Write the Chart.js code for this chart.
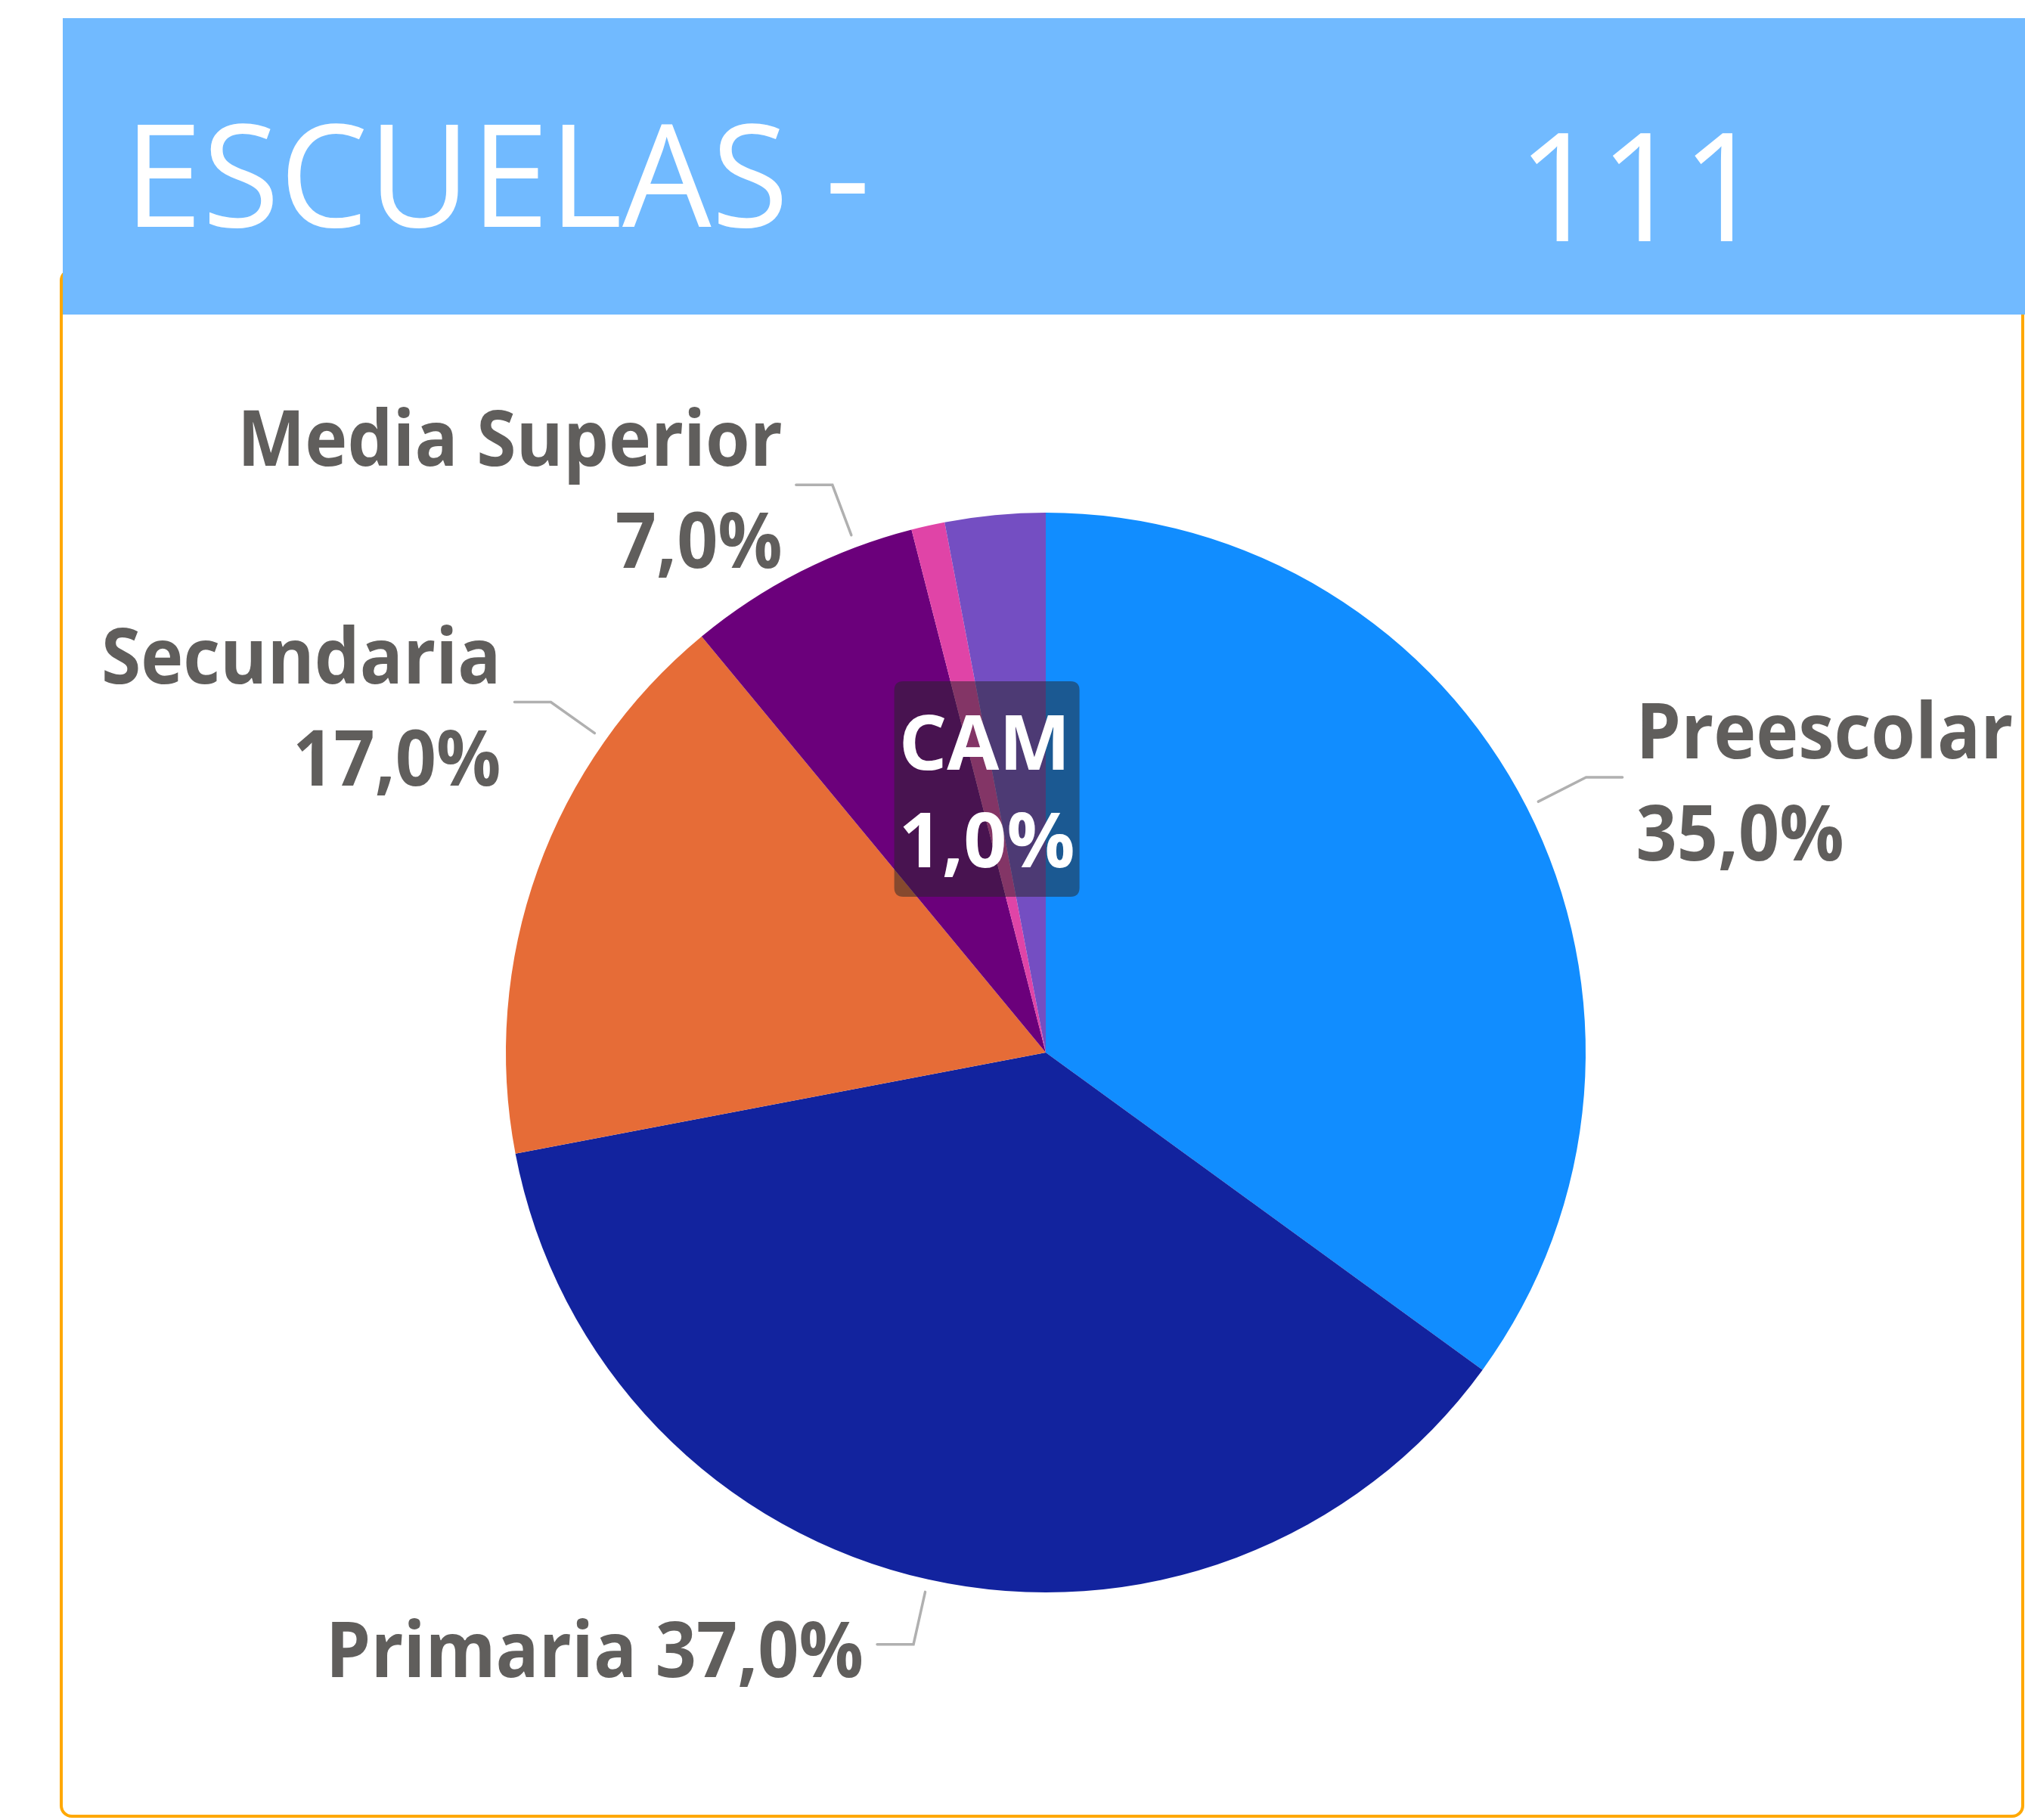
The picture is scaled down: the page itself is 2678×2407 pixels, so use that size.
<!DOCTYPE html>
<html lang="es">
<head>
<meta charset="utf-8">
<title>Escuelas</title>
<script src="https://cdn.jsdelivr.net/npm/chart.js@4.4.1/dist/chart.umd.min.js"></script>
<style>
  html, body { margin: 0; padding: 0; background: #fff; overflow: hidden; }
  canvas { display: block; }
</style>
</head>
<body>
<canvas id="pie" width="2678" height="2407"></canvas>
<script>
// --- data ---
const categories = ['Preescolar', 'Primaria', 'Secundaria', 'Media Superior', 'CAM', 'Otros'];
const shares = [35, 37, 17, 7, 1, 3];
const sliceColors = ['#118DFF', '#12239E', '#E66C37', '#6B007B', '#E044A7', '#744EC2'];
const headerTitle = 'ESCUELAS -';
const headerTotal = '111';

// label layout: 2 = name and % on two lines, 1 = one line, 0 = no label
const labelLines = [2, 1, 2, 2, 0, 0];
const leaderNudge = [0, 0, 15.5, 6.4, 0, 0];   // degrees, like Power BI moves them
const tooltipIndex = 4;                          // the hovered slice (CAM)

const LABEL_FONT = 'bold 102px "Open Sans"';
const LABEL_COLOR = '#605E5C';
const CONDENSE = 0.93;

const total = shares.reduce((a, b) => a + b, 0);
const fmtPct = v => (v / total * 100).toFixed(1).replace('.', ',') + '%';

function drawCondensed(ctx, text, x, y, side, k) {
  const w = ctx.measureText(text).width * k;
  const left = side > 0 ? x : x - w;
  ctx.save();
  ctx.translate(left, y);
  ctx.scale(k, 1);
  ctx.fillText(text, 0, 0);
  ctx.restore();
}

// card border + blue header
const panelPlugin = {
  id: 'panel',
  beforeDraw(chart) {
    const ctx = chart.ctx;
    ctx.save();
    ctx.fillStyle = '#fff';
    ctx.fillRect(0, 0, chart.width, chart.height);

    ctx.strokeStyle = '#FFA800';
    ctx.lineWidth = 4;
    ctx.beginPath();
    ctx.roundRect(81, 357, 2594, 2045, 14);
    ctx.stroke();

    ctx.fillStyle = '#71BAFF';
    ctx.fillRect(83, 24, 2595, 392);

    ctx.fillStyle = '#fff';
    ctx.textBaseline = 'alphabetic';
    ctx.textAlign = 'left';
    ctx.font = '400 188px "Open Sans"';
    drawCondensed(ctx, headerTitle, 164, 300, 1, 0.99);
    ctx.font = '400 200px "Open Sans"';
    drawCondensed(ctx, headerTotal, 2007, 319, 1, 0.95);
    ctx.restore();
  }
};

// outside labels with leader lines
const labelPlugin = {
  id: 'sliceLabels',
  afterDatasetsDraw(chart) {
    const ctx = chart.ctx;
    const arcs = chart.getDatasetMeta(0).data;
    ctx.save();
    ctx.textAlign = 'left';
    ctx.textBaseline = 'alphabetic';
    arcs.forEach((arc, i) => {
      if (!labelLines[i]) return;
      const { x, y, startAngle, endAngle, outerRadius } =
        arc.getProps(['x', 'y', 'startAngle', 'endAngle', 'outerRadius'], true);
      const a = (startAngle + endAngle) / 2 + leaderNudge[i] * Math.PI / 180;
      const dx = Math.cos(a), dy = Math.sin(a);
      const side = dx >= 0 ? 1 : -1;
      const x1 = x + dx * (outerRadius + 17), y1 = y + dy * (outerRadius + 17);
      const x2 = x + dx * (outerRadius + 88), y2 = y + dy * (outerRadius + 88);
      const x3 = x2 + side * 48;

      ctx.strokeStyle = '#B0B0B0';
      ctx.lineWidth = 3.5;
      ctx.lineCap = 'round';
      ctx.beginPath();
      ctx.moveTo(x1, y1);
      ctx.lineTo(x2, y2);
      ctx.lineTo(x3, y2);
      ctx.stroke();

      ctx.fillStyle = LABEL_COLOR;
      ctx.font = LABEL_FONT;
      const tx = x3 + side * 18;
      const pct = fmtPct(shares[i]);
      if (labelLines[i] === 2) {
        drawCondensed(ctx, categories[i], tx, y2 - 25, side, CONDENSE);
        drawCondensed(ctx, pct, tx, y2 + 110, side, CONDENSE);
      } else {
        drawCondensed(ctx, categories[i] + ' ' + pct, tx, y2 + 43, side, CONDENSE);
      }
    });
    ctx.restore();
  }
};

const tipFont = { family: 'Open Sans', size: 100, weight: 'bold', lineHeight: 1.2 };

const chart = new Chart(document.getElementById('pie'), {
  type: 'pie',
  data: {
    labels: categories,
    datasets: [{
      data: shares,
      backgroundColor: sliceColors,
      borderWidth: 0,
      hoverOffset: 0
    }]
  },
  options: {
    responsive: false,
    animation: false,
    events: [],
    layout: { padding: { left: 669, right: 581, top: 678, bottom: 301 } },
    plugins: {
      legend: { display: false },
      tooltip: {
        backgroundColor: 'rgba(38,38,38,0.5)',
        titleColor: '#fff',
        bodyColor: '#fff',
        titleFont: tipFont,
        bodyFont: tipFont,
        titleMarginBottom: 9,
        padding: { top: 28, bottom: 8, left: 6, right: 6 },
        cornerRadius: 12,
        caretSize: 0,
        caretPadding: 0,
        displayColors: false,
        xAlign: 'center',
        yAlign: 'center',
        callbacks: {
          title: items => items[0].label,
          label: item => fmtPct(item.raw)
        }
      }
    }
  },
  plugins: [panelPlugin, labelPlugin]
});

chart.tooltip.setActiveElements([{ datasetIndex: 0, index: tooltipIndex }], { x: 0, y: 0 });
chart.update();
</script>
</body>
</html>
